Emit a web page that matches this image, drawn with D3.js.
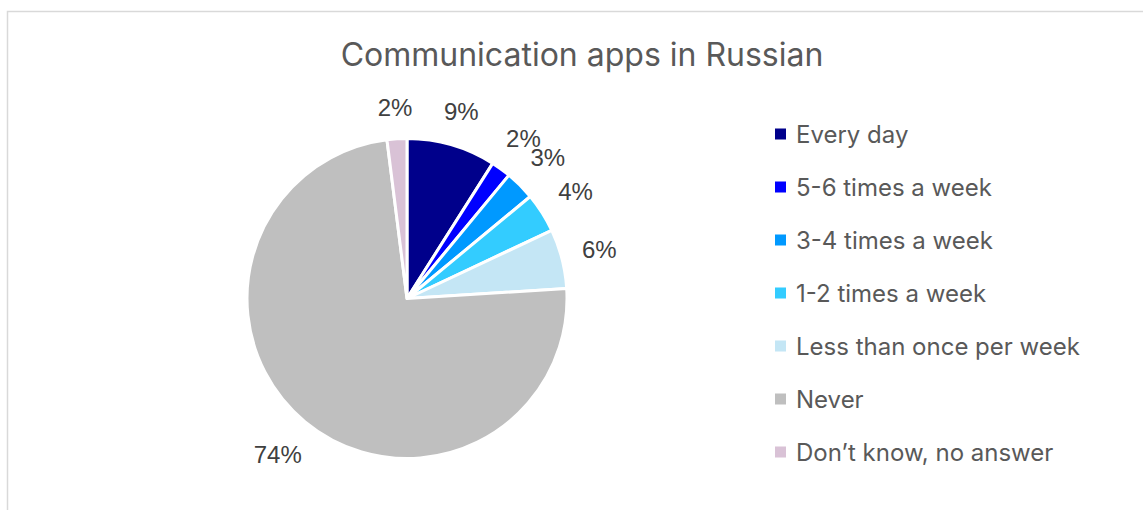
<!DOCTYPE html>
<html>
<head>
<meta charset="utf-8">
<script src="https://cdn.jsdelivr.net/npm/d3@7"></script>
<style>
  html, body { margin: 0; padding: 0; background: #fff; }
  svg { display: block; }
</style>
</head>
<body>
<svg id="chart" width="1143" height="510"></svg>
<script>
// Survey answers and their shares (percent)
const categories = [
  "Every day",
  "5-6 times a week",
  "3-4 times a week",
  "1-2 times a week",
  "Less than once per week",
  "Never",
  "Don\u2019t know, no answer"
];
const values = [9, 2, 3, 4, 6, 74, 2];
const colors = ["#00008b", "#0000ff", "#0099ff", "#33ccff", "#c4e6f5", "#bfbfbf", "#d9c2d6"];
const title = "Communication apps in Russian";

const svg = d3.select("#chart");
const W = 1143, H = 510;

// outer frame
svg.append("rect")
  .attr("x", 7.5).attr("y", 11.5)
  .attr("width", W + 10).attr("height", H + 10)
  .attr("fill", "#fff")
  .attr("stroke", "#d9d9d9").attr("stroke-width", 1.5);

svg.append("text")
  .attr("x", 582).attr("y", 66)
  .attr("text-anchor", "middle")
  .attr("font-family", "Inter, 'Open Sans', sans-serif")
  .attr("font-size", 32)
  .attr("fill", "#595959")
  .text(title);

const cx = 407, cy = 298.5, R = 160;
const data = categories.map((c, i) => ({ name: c, value: values[i], color: colors[i] }));

const pie = d3.pie().value(d => d.value).sort(null);
const arcs = pie(data);
const arc = d3.arc().innerRadius(0).outerRadius(R);

const g = svg.append("g").attr("transform", `translate(${cx},${cy})`);

g.selectAll("path.slice")
  .data(arcs)
  .join("path")
  .attr("class", "slice")
  .attr("d", arc)
  .attr("fill", d => d.data.color)
  .attr("stroke", "#fff")
  .attr("stroke-width", 3)
  .attr("stroke-linejoin", "round");

// percentage labels sit just outside the rim; the text box is pushed out
// along the slice's mid-angle so its nearest edge keeps a fixed gap
const pad = 19;
const labels = g.selectAll("text.pct")
  .data(arcs)
  .join("text")
  .attr("class", "pct")
  .attr("text-anchor", "middle")
  .attr("dy", "0.35em")
  .attr("font-family", "'Liberation Sans', Arial, sans-serif")
  .attr("font-size", 24)
  .attr("fill", "#404040")
  .text(d => d.data.value + "%");

labels.each(function (d) {
  const bb = this.getBBox();
  const a = (d.startAngle + d.endAngle) / 2;
  const s = Math.sin(a), c = -Math.cos(a);
  const ext = Math.abs(s) * bb.width / 2 + Math.abs(c) * 11;
  const r = R + pad + ext;
  d3.select(this).attr("transform", `translate(${s * r},${c * r})`);
});

// legend
const legend = svg.append("g").attr("transform", "translate(775,134)");
const y = d3.scalePoint().domain(categories).range([0, 318]);
const items = legend.selectAll("g.item")
  .data(data)
  .join("g")
  .attr("class", "item")
  .attr("transform", d => `translate(0,${y(d.name)})`);
items.append("rect")
  .attr("x", 0).attr("y", -5.5)
  .attr("width", 11).attr("height", 11)
  .attr("fill", d => d.color);
items.append("text")
  .attr("x", 21).attr("y", 0).attr("dy", "0.36em")
  .attr("font-family", "Inter, 'Open Sans', sans-serif")
  .attr("font-size", 24)
  .attr("fill", "#595959")
  .text(d => d.name);
</script>
</body>
</html>
